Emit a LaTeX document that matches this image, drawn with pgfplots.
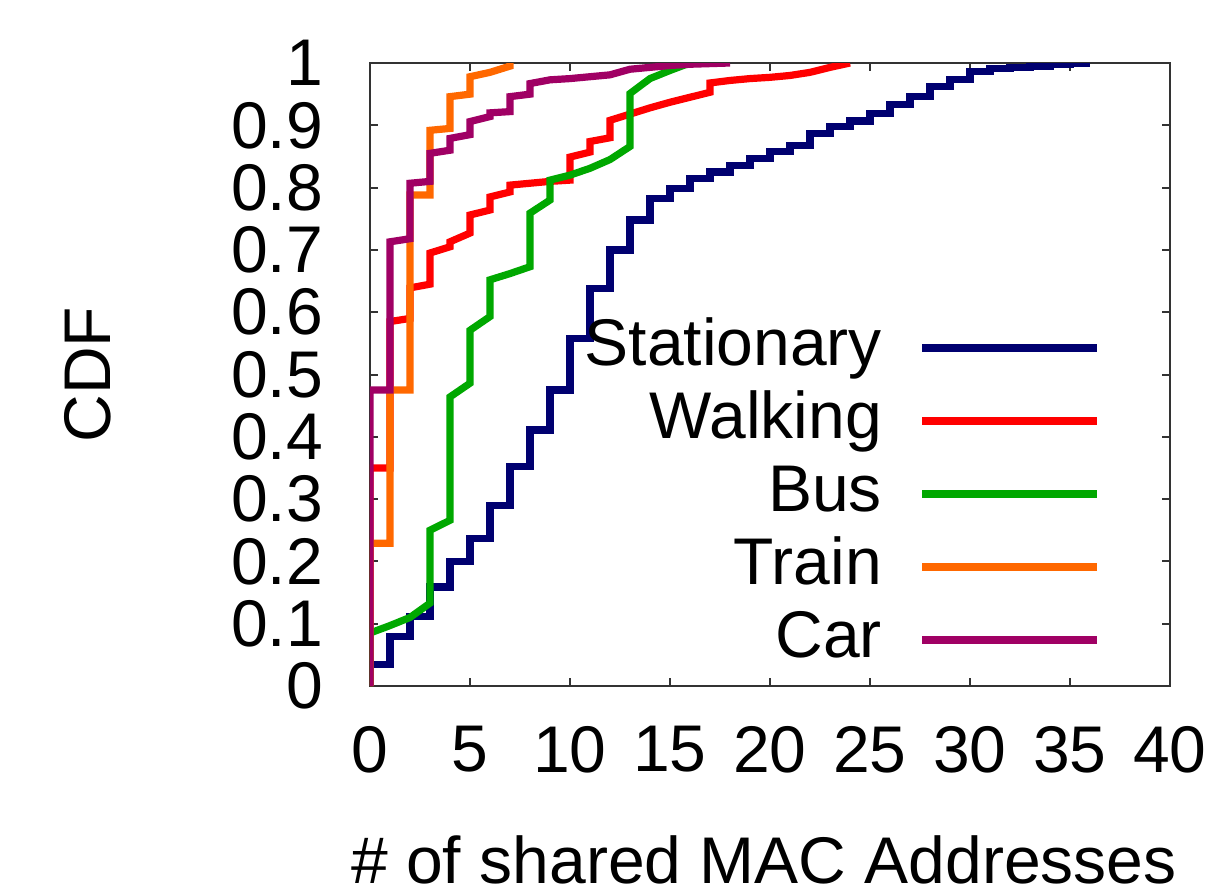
\documentclass[border=0pt]{standalone}
\usepackage{pgfplots}
\pgfplotsset{compat=1.18}
\usepackage{fontspec}
\setmainfont{Liberation Sans}
\definecolor{cStat}{RGB}{0,0,112}
\definecolor{cWalk}{RGB}{255,0,0}
\definecolor{cBus}{RGB}{0,168,0}
\definecolor{cTrain}{RGB}{255,104,0}
\definecolor{cCar}{RGB}{160,0,100}
\newcommand{\bigf}{\fontsize{16.5}{19.8}\selectfont}
\begin{document}
\begin{tikzpicture}
\begin{axis}[
  width=200pt, height=155.75pt, scale only axis,
  xmin=0, xmax=40, ymin=0, ymax=1,
  xtick={0,5,10,15,20,25,30,35,40},
  ytick={0,0.1,0.2,0.3,0.4,0.5,0.6,0.7,0.8,0.9,1},
  yticklabel style={/pgf/number format/fixed, /pgf/number format/precision=1, xshift=-8.25pt},
  xticklabel style={yshift=-6.6pt},
  /pgf/number format/assume math mode=true,
  tick label style={font=\bigf},
  label style={font=\bigf},
  tick align=inside, major tick length=2pt,
  tick style={line width=0.5pt, color=black!80},
  axis line style={line width=0.5pt, color=black!80},
  xlabel={\# of shared MAC Addresses},
  ylabel={CDF},
  xlabel style={at={(axis description cs:0.4925,-0.2793)}, anchor=center},
  ylabel style={at={(axis description cs:-0.3525,0.5)}, anchor=center},
  legend cell align=right,
  legend plot pos=right,
  legend style={draw=none, fill=none, font=\bigf, inner sep=0pt,
    at={(axis description cs:0.9148,0.0227)}, anchor=south east,
    row sep=2.75pt,
    nodes={inner sep=0pt, text height=12pt, text depth=3.5pt},
    /tikz/every odd column/.append style={column sep=9.25pt}},
  legend image code/.code={\draw[#1] (0pt,0pt) -- (43.75pt,0pt);},
  every axis plot/.append style={line width=1.8pt},
]
% Stationary
\addplot[cStat, const plot] coordinates {
(0,0) (0,0.034) (1,0.079) (2,0.111) (3,0.159) (4,0.2) (5,0.237) (6,0.29)
(7,0.352) (8,0.411) (9,0.475) (10,0.558) (11,0.638) (12,0.70) (13,0.748)
(14,0.783) (15,0.799) (16,0.815) (17,0.825) (18,0.836) (19,0.847) (20,0.858)
(21,0.868) (22,0.887) (23,0.898) (24,0.907) (25,0.919) (26,0.933) (27,0.946)
(28,0.962) (29,0.973) (30,0.986) (31,0.991) (32,0.993) (33,0.995) (34,0.997)
(35,1.0) (36,1.0)};
\addlegendentry{Stationary}
% Walking
\addplot[cWalk] coordinates {
(0,0) (0,0.35) (1,0.35) (1,0.585) (2,0.59) (2,0.639) (3,0.645) (3,0.695)
(4,0.705) (4,0.713) (5,0.727) (5,0.756) (6,0.764) (6,0.785) (7,0.793)
(7,0.804) (8,0.807) (9,0.81) (10,0.812) (10,0.849) (11,0.857) (11,0.874)
(12,0.88) (12,0.908) (13,0.918) (14,0.928) (15,0.937) (16,0.945) (17,0.953)
(17,0.968) (18,0.972) (19,0.975) (20,0.977) (21,0.98) (22,0.985) (23,0.993)
(24,1)};
\addlegendentry{Walking}
% Bus
\addplot[cBus] coordinates {
(0,0) (0,0.085) (1,0.097) (2,0.11) (3,0.133) (3,0.25) (4,0.266) (4,0.464)
(5,0.486) (5,0.571) (6,0.593) (6,0.652) (7,0.662) (8,0.673) (8,0.759)
(9,0.78) (9,0.812) (10,0.82) (11,0.831) (12,0.845) (13,0.866) (13,0.951)
(14,0.975) (15,0.988) (16,1)};
\addlegendentry{Bus}
% Train
\addplot[cTrain] coordinates {
(0,0) (0,0.229) (1,0.229) (1,0.475) (2,0.475) (2,0.788) (3,0.788) (3,0.892)
(4,0.895) (4,0.946) (5,0.95) (5,0.978) (6,0.985) (7,0.995) (7,1)};
\addlegendentry{Train}
% Car
\addplot[cCar] coordinates {
(0,0) (0,0.475) (1,0.475) (1,0.713) (2,0.718) (2,0.807) (3,0.81) (3,0.855)
(4,0.86) (4,0.879) (5,0.885) (5,0.906) (6,0.914) (6,0.92) (7,0.922)
(7,0.946) (8,0.95) (8,0.967) (9,0.973) (10,0.975) (11,0.978) (12,0.981)
(13,0.99) (14,0.993) (15,0.996) (16,0.998) (17,0.999) (18,1)};
\addlegendentry{Car}
\coordinate (BBsw) at (rel axis cs:-0.4625,-0.33066);
\coordinate (BBne) at (rel axis cs:1.05375,1.10112);
\end{axis}
\pgfresetboundingbox
\path[use as bounding box] (BBsw) rectangle (BBne);
\end{tikzpicture}
\end{document}
